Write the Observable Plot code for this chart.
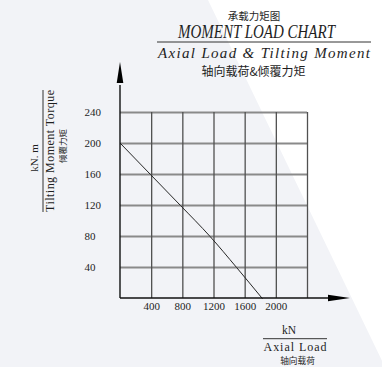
<!DOCTYPE html>
<html>
<head>
<meta charset="utf-8">
<script src="https://cdn.jsdelivr.net/npm/d3@7"></script>
<script src="https://cdn.jsdelivr.net/npm/@observablehq/plot@0.6"></script>
<style>
  html, body { margin: 0; padding: 0; background: #ffffff; }
  #chart svg { display: block; }
</style>
</head>
<body>
<div id="chart"></div>
<script>
// ---- data ----
const xTicks = [400, 800, 1200, 1600, 2000];
const yTicks = [40, 80, 120, 160, 200, 240];
const xGrid = [400, 800, 1200, 1600, 2000, 2400];
const yGrid = [40, 80, 120, 160, 200, 240];
const axialLoad = [0, 385, 770, 1150, 1490, 1820];     // kN
const tiltingMoment = [200, 160, 120, 80, 40, 0];       // kN.m

const titleCN = "承载力矩图";
const titleEN = "MOMENT LOAD CHART";
const subtitleEN = "Axial Load & Tilting Moment";
const subtitleCN = "轴向载荷&倾覆力矩";
const yUnit = "kN. m";
const yNameEN = "Tilting Moment Torque";
const yNameCN = "倾覆力矩";
const xUnit = "kN";
const xNameEN = "Axial Load";
const xNameCN = "轴向载荷";

const curve = axialLoad.map((x, i) => ({x, y: tiltingMoment[i]}));

const serif = "'Liberation Serif', 'DejaVu Serif', serif";
const cjk = "'Noto Sans CJK SC', sans-serif";
const ink = "#1e1e1e";

const plot = Plot.plot({
  width: 382,
  height: 367,
  marginLeft: 120,
  marginRight: 75,
  marginTop: 112,
  marginBottom: 69,
  style: {background: "transparent", fontFamily: serif, fontSize: "11px", color: ink, overflow: "visible"},
  x: {domain: [0, 2400]},
  y: {domain: [0, 240]},
  marks: [
    Plot.ruleY(yGrid, {x1: 0, x2: 2400, stroke: "#8a8a8a", strokeWidth: 1.8, strokeOpacity: 1}),
    Plot.ruleX(xGrid, {y1: 0, y2: 240, stroke: "#505050", strokeWidth: 1.3, strokeOpacity: 1}),
    Plot.line(curve, {x: "x", y: "y", stroke: "#262626", strokeWidth: 1, curve: "monotone-x"}),
    Plot.axisX({ticks: xTicks, tickSize: 0, tickPadding: 4, tickFormat: d => String(d), label: null,
      fontSize: 11, fontFamily: serif, fill: ink}),
    Plot.axisY({ticks: yTicks, tickSize: 0, tickPadding: 0, tickFormat: d => String(d), label: null,
      textAnchor: "start", dx: -36, fontSize: 11, fontFamily: serif, fill: ink})
  ]
});

document.getElementById("chart").appendChild(plot);

const sx = plot.scale("x").apply;
const sy = plot.scale("y").apply;
const svg = d3.select(plot);

// background: light grey on the left of a diagonal, white on the right
svg.insert("polygon", ":first-child")
  .attr("points", "0,0 208,0 385,367 0,367")
  .attr("fill", "#f2f3f7");
svg.insert("rect", ":first-child")
  .attr("x", 0).attr("y", 0).attr("width", 382).attr("height", 367)
  .attr("fill", "#ffffff");

// axes with arrows
const x0 = sx(0), y0 = sy(0);
const yTip = sy(240) - 50, yBase = sy(240) - 29;
const xTip = sx(2400) + 43, xBase = sx(2400) + 21;
svg.append("line").attr("x1", x0).attr("x2", x0).attr("y1", y0).attr("y2", yBase + 2)
  .attr("stroke", "#111").attr("stroke-width", 1.4);
svg.append("line").attr("x1", x0).attr("x2", xBase + 2).attr("y1", y0).attr("y2", y0)
  .attr("stroke", "#111").attr("stroke-width", 1.4);
svg.append("polygon")
  .attr("points", `${x0},${yTip} ${x0 - 3.3},${yBase} ${x0 + 3.3},${yBase}`)
  .attr("fill", "#000");
svg.append("polygon")
  .attr("points", `${xTip},${y0} ${xBase},${y0 - 3.3} ${xBase},${y0 + 3.3}`)
  .attr("fill", "#000");

function txt(s, x, y, opts = {}) {
  const t = svg.append("text")
    .attr("x", x).attr("y", y)
    .attr("text-anchor", "middle")
    .attr("dominant-baseline", "central")
    .attr("fill", ink)
    .style("font-family", opts.family || serif)
    .style("font-size", (opts.size || 11) + "px")
    .style("font-style", opts.italic ? "italic" : "normal")
    .text(s);
  if (opts.len) t.attr("textLength", opts.len).attr("lengthAdjust", opts.adjust || "spacingAndGlyphs");
  if (opts.rotate) t.attr("transform", `rotate(-90, ${x}, ${y})`);
  return t;
}

// title block
txt(titleCN, 254, 15, {family: cjk, size: 10.5});
txt(titleEN, 256.5, 31.5, {size: 18, italic: true, len: 157});
svg.append("line").attr("x1", 157).attr("x2", 371).attr("y1", 42).attr("y2", 42)
  .attr("stroke", "#333").attr("stroke-width", 1);
txt(subtitleEN, 264, 52.5, {size: 15, italic: true, len: 212, adjust: "spacing"});
txt(subtitleCN, 253.5, 70, {family: cjk, size: 12});

// y axis title
txt(yUnit, 34, 158, {size: 11, rotate: true});
svg.append("line").attr("x1", 43).attr("x2", 43).attr("y1", 90).attr("y2", 212)
  .attr("stroke", "#333").attr("stroke-width", 1);
txt(yNameEN, 49.5, 151, {size: 12, rotate: true, len: 122, adjust: "spacing"});
txt(yNameCN, 62, 146, {family: cjk, size: 8.5, rotate: true});

// x axis title
txt(xUnit, 289, 330, {size: 11.5});
svg.append("line").attr("x1", 263).attr("x2", 327).attr("y1", 338.7).attr("y2", 338.7)
  .attr("stroke", "#333").attr("stroke-width", 1);
txt(xNameEN, 295, 346.5, {size: 12, len: 63, adjust: "spacing"});
txt(xNameCN, 297.5, 360, {family: cjk, size: 8.7});
</script>
</body>
</html>
